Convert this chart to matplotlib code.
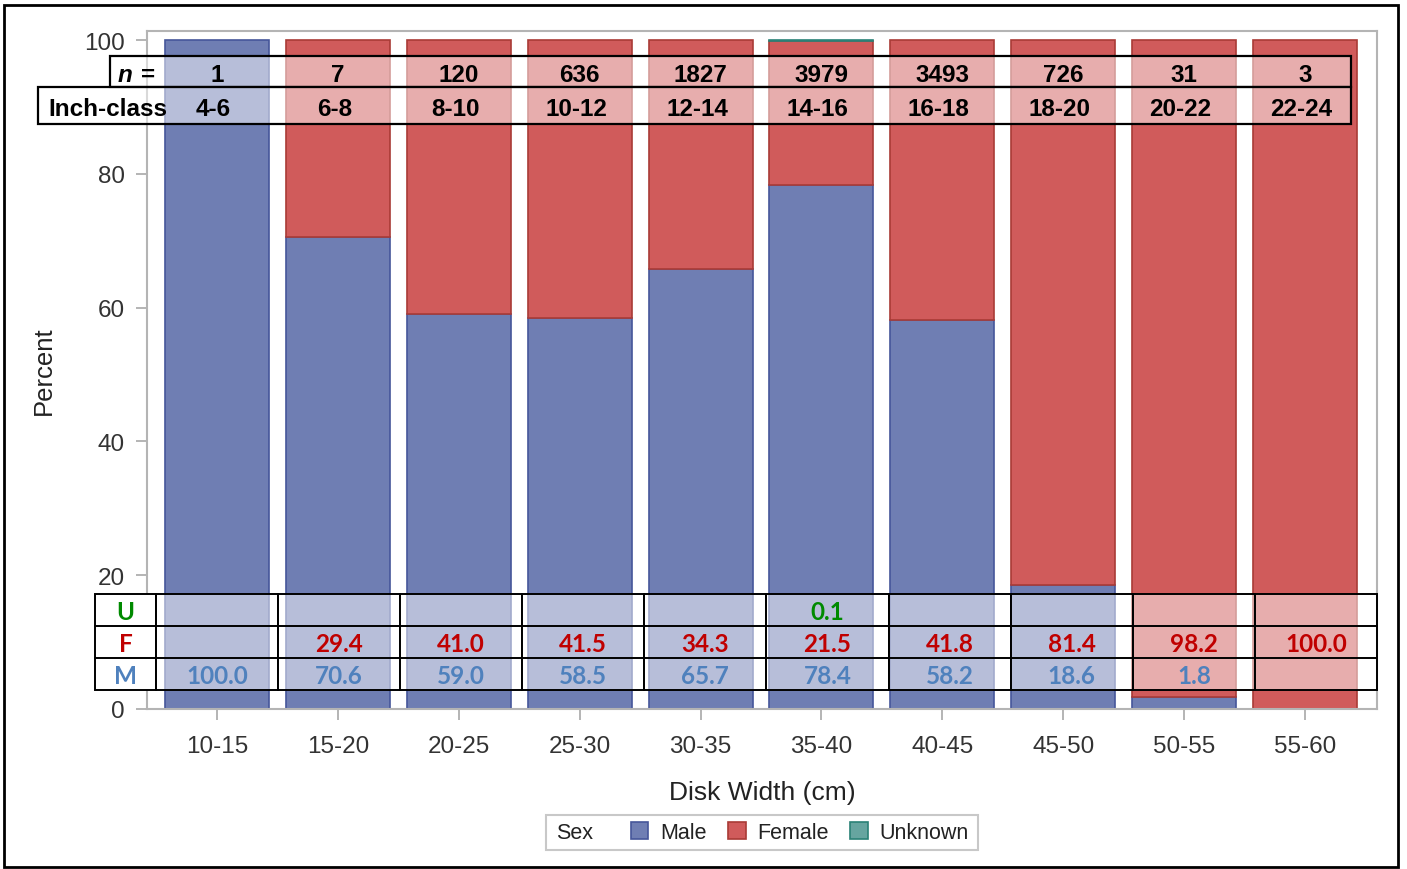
import matplotlib
matplotlib.use("Agg")
import matplotlib.pyplot as plt
import matplotlib.patches as patches
import numpy as np

# chart data
disk_width = ['10-15', '15-20', '20-25', '25-30', '30-35',
              '35-40', '40-45', '45-50', '50-55', '55-60']
inch_class = ['4-6', '6-8', '8-10', '10-12', '12-14',
              '14-16', '16-18', '18-20', '20-22', '22-24']
n_fish = [1, 7, 120, 636, 1827, 3979, 3493, 726, 31, 3]
pct_male = [100.0, 70.6, 59.0, 58.5, 65.7, 78.4, 58.2, 18.6, 1.8, 0.0]
pct_female = [0.0, 29.4, 41.0, 41.5, 34.3, 21.5, 41.8, 81.4, 98.2, 100.0]
pct_unknown = [0.0, 0.0, 0.0, 0.0, 0.0, 0.1, 0.0, 0.0, 0.0, 0.0]

male_fill, male_edge = '#6F7EB3', '#45569A'
female_fill, female_edge = '#D05B5B', '#A93B36'
unk_fill, unk_edge = '#66A5A0', '#2A8177'

W, H = 1407, 870
fig = plt.figure(figsize=(W / 100, H / 100), dpi=100)
ax = fig.add_axes([147 / W, 1 - 710 / H, (1377 - 147) / W, (710 - 32) / H])

x = np.arange(len(disk_width))
male = np.array(pct_male)
female = np.array(pct_female)
unknown = np.array(pct_unknown)


def lw(vals):
    # no outline on empty segments
    return [1.2 if v > 0 else 0 for v in vals]


ax.bar(x, male, width=0.86, color=male_fill, edgecolor=male_edge,
       linewidth=lw(male), zorder=2)
ax.bar(x, female, width=0.86, bottom=male, color=female_fill,
       edgecolor=female_edge, linewidth=lw(female), zorder=2)
ax.bar(x, unknown, width=0.86, bottom=male + female, color=unk_fill,
       edgecolor=unk_edge, linewidth=lw(unknown), zorder=2)

ax.set_xlim(-0.579, 9.595)
ax.set_ylim(0, 101.35)
ax.set_xticks(x)
ax.set_xticklabels(disk_width)
ax.set_yticks([0, 20, 40, 60, 80, 100])
for s in ax.spines.values():
    s.set_color('#B4B4B4')
    s.set_linewidth(1.5)
ax.tick_params(direction='out', length=8, width=1.2, color='#A8A8A8',
               labelcolor='#333333', labelsize=17.5)
ax.tick_params(axis='x', pad=11)
ax.tick_params(axis='y', pad=8)
for lab in ax.get_xticklabels() + ax.get_yticklabels():
    lab.set_family('Liberation Sans')
ax.set_xlabel('Disk Width (cm)', fontsize=19, family='Liberation Sans',
              color='#222222', labelpad=16)
ax.set_ylabel('Percent', fontsize=18.5, family='Liberation Sans',
              color='#222222', labelpad=20)

# ---- top table (n and inch class) ----
top_font = dict(family='Liberation Sans', weight='bold', fontsize=17.5,
                color='black', va='center', zorder=7, clip_on=False)
n_lo, n_hi = 92.92, 97.66
i_lo = 87.43
ax.add_patch(patches.Rectangle((-0.885, n_lo), 9.38 + 0.885, n_hi - n_lo,
                               facecolor=(1, 1, 1, 0.5), edgecolor='black',
                               linewidth=1.6, zorder=5, clip_on=False))
ax.add_patch(patches.Rectangle((-1.48, i_lo), 9.38 + 1.48, n_lo - i_lo,
                               facecolor=(1, 1, 1, 0.5), edgecolor='black',
                               linewidth=1.6, zorder=5, clip_on=False))
n_mid = (n_lo + n_hi) / 2 - 0.4
i_mid = (i_lo + n_lo) / 2 - 0.4
ax.text(-0.76, n_mid, 'n', ha='center', style='italic', **top_font)
ax.text(-0.567, n_mid, '=', ha='center', **top_font)
ax.text(-1.395, i_mid, 'Inch-class', ha='left', **top_font)
for k in range(len(x)):
    ax.text(x[k], n_mid, str(n_fish[k]), ha='center', **top_font)
    ax.text(x[k] - 0.03, i_mid, inch_class[k], ha='center', **top_font)

# ---- bottom table (percent by sex) ----
row_h = 4.77
t_lo = 2.89
col_w = 1.01
col0 = -0.505
ax.add_patch(patches.Rectangle((-1.009, t_lo), col0 + 1.009, 3 * row_h,
                               facecolor='white', edgecolor='black',
                               linewidth=1.4, zorder=5, clip_on=False))
for k in range(len(x)):
    ax.add_patch(patches.Rectangle((col0 + col_w * k, t_lo), col_w, 3 * row_h,
                                   facecolor=(1, 1, 1, 0.5), edgecolor='black',
                                   linewidth=1.4, zorder=5, clip_on=False))
for r in (1, 2):
    ax.plot([-1.009, col0 + col_w * len(x)], [t_lo + r * row_h] * 2,
            color='black', linewidth=1.4, zorder=5, clip_on=False)

rows = [('U', unknown, '#008A00'), ('F', female, '#C00000'), ('M', male, '#4F81BD')]
bot_font = dict(family='Lato', weight='bold', fontsize=17.5, ha='center',
                va='center', zorder=7, clip_on=False)
for r, (lab, vals, col) in enumerate(rows):
    yc = t_lo + (2 - r + 0.5) * row_h - 0.3
    ax.text((-1.009 + col0) / 2, yc, lab, color=col, **bot_font)
    for k, v in enumerate(vals):
        if v > 0:
            ax.text(col0 + col_w * (k + 0.5), yc, f'{v:.1f}', color=col, **bot_font)

# ---- legend ----
handles = [patches.Patch(facecolor=male_fill, edgecolor=male_edge, linewidth=1.2),
           patches.Patch(facecolor=female_fill, edgecolor=female_edge, linewidth=1.2),
           patches.Patch(facecolor=unk_fill, edgecolor=unk_edge, linewidth=1.2)]
leg = fig.legend(handles=handles, labels=['Male', 'Female', 'Unknown'],
                 loc='center', bbox_to_anchor=(800 / W, 1 - 833.5 / H),
                 ncol=3, frameon=False, handlelength=0.8, handleheight=0.8,
                 handletextpad=0.55, columnspacing=1.0,
                 prop={'family': 'Liberation Sans', 'size': 15.5})
for t in leg.get_texts():
    t.set_color('#222222')
fig.text(556 / W, 1 - 833.5 / H, 'Sex', ha='left', va='center',
         fontsize=15.5, family='Liberation Sans', color='#222222')
fig.patches.append(patches.Rectangle((546 / W, 1 - 851 / H), 432 / W, 35 / H,
                                     transform=fig.transFigure, fill=False,
                                     edgecolor='#C8C8C8', linewidth=1.5))

# outer border
fig.patches.append(patches.Rectangle((4 / W, 1 - 868 / H), 1394 / W, 862 / H,
                                     transform=fig.transFigure, fill=False,
                                     edgecolor='black', linewidth=2))

fig.savefig('out.png', dpi=100)
